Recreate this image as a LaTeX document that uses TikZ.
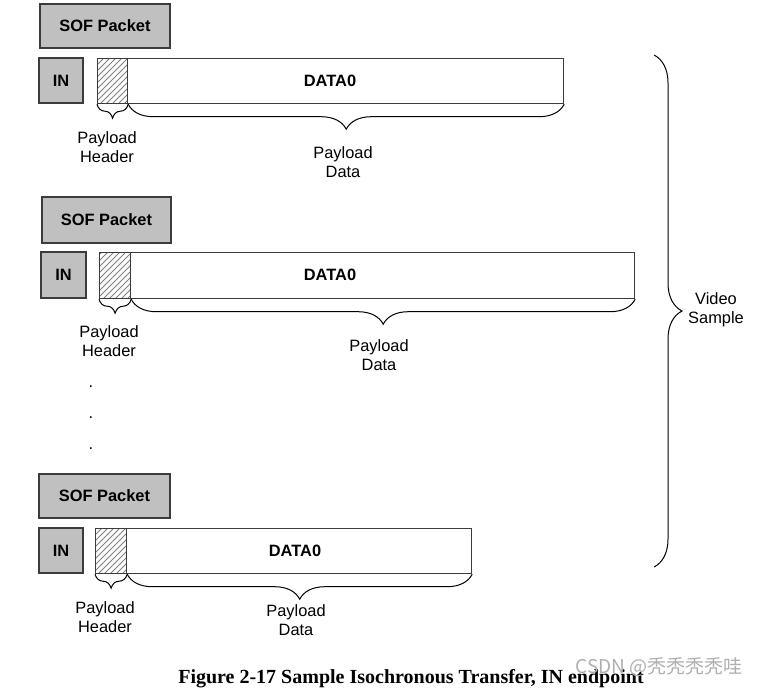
\documentclass[tikz,border=0pt]{standalone}
\usepackage{fontspec}
\setmainfont{Liberation Sans}
\newfontfamily\capfont{Liberation Serif}
\newfontfamily\cjk{Noto Sans CJK SC}
\usetikzlibrary{patterns,decorations.pathreplacing}
\definecolor{boxgray}{RGB}{192,192,192}
\definecolor{edge}{RGB}{60,60,60}
\definecolor{wmgray}{RGB}{175,175,175}
\begin{document}
\begin{tikzpicture}[x=.5pt,y=-.5pt,
		font=\fontsize{8.2}{9.5}\selectfont,
		grayblk/.style={draw=edge,fill=boxgray,line width=.6pt,inner sep=0pt,font=\fontsize{8.2}{9.5}\selectfont\bfseries},
		datablk/.style={draw=edge,line width=.6pt,inner sep=0pt,anchor=north west},
		hatchblk/.style={draw=edge,line width=.6pt,pattern=north east lines,pattern color=gray,inner sep=0pt,anchor=north west},
		boldtxt/.style={font=\fontsize{8.2}{9.5}\selectfont\bfseries},
		brc/.style={decorate,decoration={brace,mirror,amplitude=#1},line width=.5pt},
		txt/.style={align=center}]
	\useasboundingbox (0,0) rectangle (758,690);
	% packet 1
	\node[grayblk,minimum width=65pt,minimum height=22pt] (sof1) at (105,26) {SOF Packet};
	\node[grayblk,minimum width=22pt,minimum height=22.5pt] (in1) at (61,80.5) {IN};
	\node[datablk,minimum width=233pt,minimum height=22.5pt] (data1) at (97,58) {};
	\node[hatchblk,minimum width=15pt,minimum height=22.5pt] (hdr1) at (97,58) {};
	\node[boldtxt] (d1) at (330,80.5) {DATA0};
	\draw[brc=7pt] (hdr1.south west) -- (hdr1.south east);
	\draw[brc=12.5pt] (hdr1.south east) -- (data1.south east);
	\node[txt] (ph1) at (107,147.5) {Payload\\Header};
	\node[txt] (pd1) at (343,162.5) {Payload\\Data};
	% packet 2
	\node[grayblk,minimum width=64.5pt,minimum height=23pt] (sof2) at (106.5,220) {SOF Packet};
	\node[grayblk,minimum width=22.5pt,minimum height=23pt] (in2) at (63.5,275) {IN};
	\node[datablk,minimum width=267.5pt,minimum height=23pt] (data2) at (99,252) {};
	\node[hatchblk,minimum width=15.5pt,minimum height=23pt] (hdr2) at (99,252) {};
	\node[boldtxt] (d2) at (330,275) {DATA0};
	\draw[brc=7pt] (hdr2.south west) -- (hdr2.south east);
	\draw[brc=12.5pt] (hdr2.south east) -- (data2.south east);
	\node[txt] (ph2) at (109,341.5) {Payload\\Header};
	\node[txt] (pd2) at (379,355.5) {Payload\\Data};
	\node (dot1) at (91,387) {.};
	\node (dot2) at (91,418) {.};
	\node (dot3) at (91,449) {.};
	% packet 3
	\node[grayblk,minimum width=65.5pt,minimum height=22pt] (sof3) at (104.5,496) {SOF Packet};
	\node[grayblk,minimum width=22pt,minimum height=22.5pt] (in3) at (61,550.5) {IN};
	\node[datablk,minimum width=188pt,minimum height=22.5pt] (data3) at (95,528) {};
	\node[hatchblk,minimum width=15.5pt,minimum height=22.5pt] (hdr3) at (95,528) {};
	\node[boldtxt] (d3) at (295,550.5) {DATA0};
	\draw[brc=7pt] (hdr3.south west) -- (hdr3.south east);
	\draw[brc=12.5pt] (hdr3.south east) -- (data3.south east);
	\node[txt] (ph3) at (105,617) {Payload\\Header};
	\node[txt] (pd3) at (296,620.5) {Payload\\Data};
	% video sample
	\coordinate (vtop) at (654,55);
	\coordinate (vbot) at (654,567);
	\draw[decorate,decoration={brace,amplitude=14pt},line width=.5pt] (vtop) -- (vbot);
	\node[txt] (vs) at (716,309.5) {Video\\Sample};
	\node[font=\capfont\fontsize{10}{12}\selectfont\bfseries] (cap) at (411,679) {Figure 2-17 Sample Isochronous Transfer, IN endpoint};
	\node[font=\cjk\fontsize{9.5}{11}\selectfont,text=wmgray] (wm) at (659,667) {CSDN @秃秃秃秃哇};
\end{tikzpicture}
\end{document}
